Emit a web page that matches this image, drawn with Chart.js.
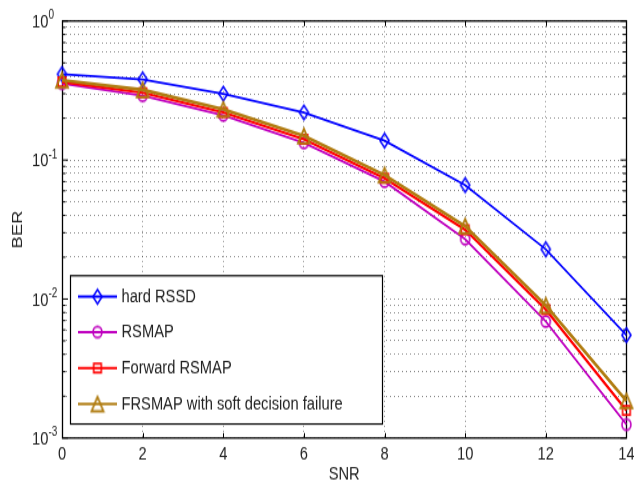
<!DOCTYPE html>
<html><head><meta charset="utf-8">
<script src="https://cdn.jsdelivr.net/npm/chart.js@4/dist/chart.umd.min.js"></script>
<style>
html,body{margin:0;padding:0;background:#fff;overflow:hidden;width:634px;height:482px;}
#wrap{position:absolute;left:0;top:0;width:634px;height:386px;transform:scaleY(1.2487);transform-origin:0 0;}
canvas{display:block;}
</style></head><body>
<div id="wrap"><canvas id="c" width="634" height="386"></canvas></div>
<script>
// ---- data ----
const snr = [0, 2, 4, 6, 8, 10, 12, 14];
const hardRSSD   = [0.415, 0.38, 0.30, 0.22, 0.138, 0.066, 0.0228, 0.0055];
const rsmap      = [0.355, 0.29, 0.21, 0.133, 0.070, 0.027, 0.0069, 0.00125];
const fwdRSMAP   = [0.365, 0.305, 0.22, 0.141, 0.074, 0.0315, 0.0084, 0.00158];
const frsmapSoft = [0.375, 0.32, 0.232, 0.149, 0.078, 0.0335, 0.0090, 0.00185];
const seriesNames = ['hard RSSD', 'RSMAP', 'Forward RSMAP', 'FRSMAP with soft decision failure'];
const xTicks = [0, 2, 4, 6, 8, 10, 12, 14];
const yDecades = [1e-3, 1e-2, 1e-1, 1];
const yDecadeExp = ['-3', '-2', '-1', '0'];
const xTitle = 'SNR';
const yTitle = 'BER';

// ---- styling ----
const SY = 482 / 386;
const FONT = "'Liberation Sans', Arial, Helvetica, sans-serif";
const TEXT = '#222';
const GRID = 'rgba(0,0,0,0.45)';
const C_BLUE = '#0000ff', C_MAG = '#bf00bf', C_RED = '#ff0000', C_BRN = '#b07c10';

function marker(shape, color, w, h, lw) {
  const c = document.createElement('canvas');
  const W = Math.ceil(w + lw + 2), H = Math.ceil(h + lw + 2);
  c.width = W; c.height = H;
  const g = c.getContext('2d');
  g.strokeStyle = color; g.lineWidth = lw;
  const cx = W / 2, cy = H / 2;
  g.beginPath();
  if (shape === 'diamond') {
    g.moveTo(cx, cy - h / 2); g.lineTo(cx + w / 2, cy); g.lineTo(cx, cy + h / 2); g.lineTo(cx - w / 2, cy); g.closePath();
  } else if (shape === 'circle') {
    g.ellipse(cx, cy, w / 2, h / 2, 0, 0, Math.PI * 2);
  } else if (shape === 'square') {
    g.rect(cx - w / 2, cy - h / 2, w, h);
  } else if (shape === 'triangle') {
    g.moveTo(cx, cy - h / 2); g.lineTo(cx + w / 2, cy + h / 2); g.lineTo(cx - w / 2, cy + h / 2); g.closePath();
  }
  g.stroke();
  return c;
}

const yTickValues = [];
for (let e = -3; e < 0; e++) for (let m = 1; m <= 9; m++) yTickValues.push(+(m * Math.pow(10, e)).toPrecision(3));
yTickValues.push(1);

const pts = arr => snr.map((x, i) => ({x, y: arr[i]}));

const frame = {
  id: 'frame',
  beforeDatasetsDraw(chart) {
    const {ctx, chartArea: a, scales: {x, y}} = chart;
    ctx.save();
    ctx.strokeStyle = '#000'; ctx.lineWidth = 1;
    ctx.beginPath();
    xTicks.forEach(v => {
      const px = Math.round(x.getPixelForValue(v)) + 0.5;
      ctx.moveTo(px, a.bottom); ctx.lineTo(px, a.bottom - 4);
      ctx.moveTo(px, a.top); ctx.lineTo(px, a.top + 4);
    });
    y.ticks.forEach(t => {
      const py = y.getPixelForValue(t.value);
      const isMaj = Math.abs(Math.log10(t.value) - Math.round(Math.log10(t.value))) < 1e-9;
      const L = isMaj ? 6 : 3.5;
      ctx.moveTo(a.left, py); ctx.lineTo(a.left + L, py);
      ctx.moveTo(a.right, py); ctx.lineTo(a.right - L, py);
    });
    ctx.stroke();
    ctx.lineWidth = 1.3;
    ctx.strokeRect(Math.round(a.left) + 0.5, a.top, Math.round(a.right - a.left), a.bottom - a.top);
    // y decade labels 10^n
    ctx.fillStyle = TEXT; ctx.textAlign = 'left'; ctx.textBaseline = 'alphabetic';
    yDecades.forEach((v, i) => {
      const py = y.getPixelForValue(v);
      ctx.font = '14.7px ' + FONT;
      ctx.fillText('10', 32, py + 5.2);
      ctx.font = '10px ' + FONT;
      ctx.fillText(yDecadeExp[i], 48.5, py - 1.6);
    });
    ctx.restore();
  }
};

const legendBox = {
  id: 'legendBox',
  afterDraw(chart) {
    const ctx = chart.ctx;
    const x0 = 70, x1 = 382, y0 = 275.7 / SY, y1 = 424 / SY;
    ctx.save();
    ctx.fillStyle = '#fff'; ctx.fillRect(x0, y0, x1 - x0, y1 - y0);
    ctx.strokeStyle = '#000'; ctx.lineWidth = 1.2; ctx.strokeRect(x0 + 0.5, y0, x1 - x0, y1 - y0);
    const rows = [296.7, 332, 368, 404].map(v => v / SY);
    chart.data.datasets.forEach((ds, i) => {
      const yy = rows[i];
      ctx.strokeStyle = ds.borderColor; ctx.lineWidth = 2;
      ctx.beginPath(); ctx.moveTo(78, yy); ctx.lineTo(117, yy); ctx.stroke();
      const img = ds.pointStyle;
      ctx.drawImage(img, 97.5 - img.width / 2, yy - img.height / 2);
      ctx.fillStyle = TEXT; ctx.font = '14.7px ' + FONT;
      ctx.textBaseline = 'middle'; ctx.textAlign = 'left';
      ctx.fillText(ds.label, 121.5, yy + 0.5);
    });
    ctx.restore();
  }
};

new Chart(document.getElementById('c'), {
  type: 'line',
  data: {
    datasets: [
      {label: seriesNames[0], data: pts(hardRSSD), borderColor: C_BLUE, borderWidth: 1.8,
       pointStyle: marker('diamond', C_BLUE, 9, 11.6, 1.6), order: 3},
      {label: seriesNames[1], data: pts(rsmap), borderColor: C_MAG, borderWidth: 1.8,
       pointStyle: marker('circle', C_MAG, 9, 8.8, 1.6), order: 2},
      {label: seriesNames[2], data: pts(fwdRSMAP), borderColor: C_RED, borderWidth: 2.2,
       pointStyle: marker('square', C_RED, 7.5, 7.2, 1.6), order: 1},
      {label: seriesNames[3], data: pts(frsmapSoft), borderColor: C_BRN, borderWidth: 2.6,
       pointStyle: marker('triangle', C_BRN, 12, 11.5, 1.8), order: 0}
    ].map(d => Object.assign({fill: false, tension: 0, pointRadius: 5, clip: false,
      backgroundColor: d.borderColor, pointBorderColor: d.borderColor}, d))
  },
  options: {
    responsive: false,
    devicePixelRatio: 1,
    animation: false,
    events: [],
    layout: {padding: {top: 21 / SY, right: 4, left: 0, bottom: 0}},
    plugins: {legend: {display: false}, tooltip: {enabled: false}},
    scales: {
      x: {
        type: 'linear', min: 0, max: 14,
        ticks: {stepSize: 2, padding: 4, color: TEXT, font: {family: FONT, size: 14.7}, maxRotation: 0},
        grid: {color: GRID, lineWidth: 1, drawTicks: false},
        border: {display: false, dash: [1, 3]},
        title: {display: true, text: xTitle, color: TEXT, font: {family: FONT, size: 14.7, lineHeight: 0.8}, padding: {top: 0, bottom: 0}},
        afterFit(s) { s.height = 386 - 438 / SY; s.paddingLeft = 0; s.paddingRight = 0; }
      },
      y: {
        type: 'logarithmic', min: 0.001, max: 1,
        afterBuildTicks(s) { s.ticks = yTickValues.map(v => ({value: v})); },
        ticks: {display: false},
        grid: {color: GRID, lineWidth: 1, drawTicks: false},
        border: {display: false, dash: [1, 3]},
        title: {display: true, text: yTitle, color: TEXT, font: {family: FONT, size: 14.7, lineHeight: 1}, padding: {top: 10.6, bottom: 0}},
        afterFit(s) { s.width = 62; s.paddingTop = 0; s.paddingBottom = 0; }
      }
    }
  },
  plugins: [frame, legendBox]
});
</script></body></html>
